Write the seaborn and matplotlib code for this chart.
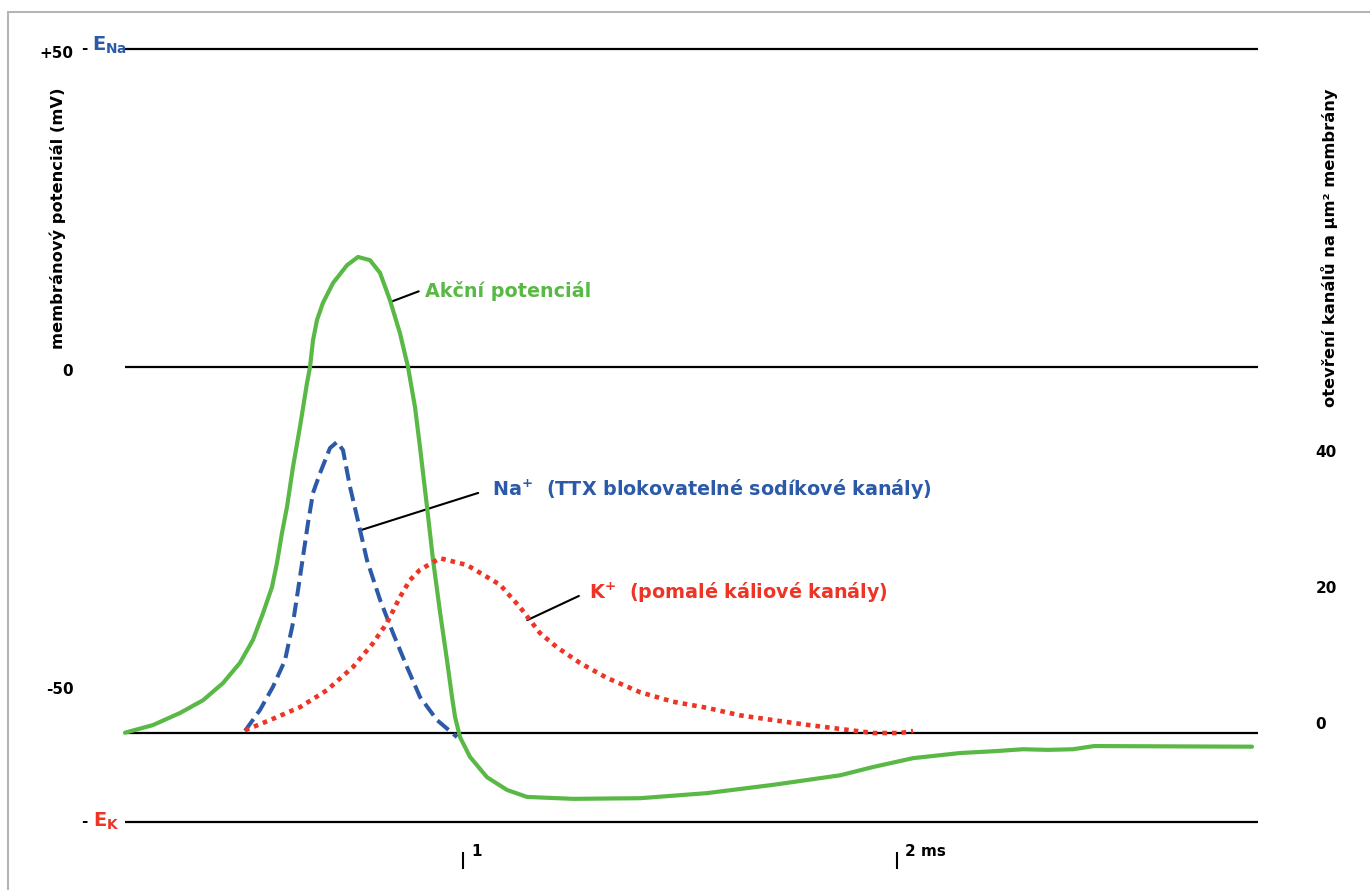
import numpy as np
import pandas as pd
import matplotlib
matplotlib.use("Agg")
import matplotlib.pyplot as plt
from matplotlib.lines import Line2D
from matplotlib.transforms import blended_transform_factory, ScaledTranslation
import seaborn as sns

# ---------------- data ----------------
# action potential: time (ms), membrane potential (mV)
ap_time = [0.2212, 0.2857, 0.3479, 0.4009, 0.4470, 0.4862, 0.5161, 0.5392, 0.5599, 0.5714,
           0.5829, 0.5945, 0.6083, 0.6244, 0.6406, 0.6475, 0.6544, 0.6636, 0.6774, 0.7005,
           0.7327, 0.7581, 0.7857, 0.8088, 0.8318, 0.8548, 0.8733, 0.8894, 0.9009, 0.9171,
           0.9309, 0.9470, 0.9631, 0.9747, 0.9816, 0.9931, 1.0161, 1.0553, 1.1014, 1.1475,
           1.2535, 1.4078, 1.5622, 1.7143, 1.8687, 1.9447, 2.0369, 2.1452, 2.2258, 2.2903,
           2.3479, 2.4055, 2.4539, 2.8180]
ap_mv = [-57.5, -56.3, -54.4, -52.4, -49.7, -46.5, -42.9, -38.7, -34.6, -30.8,
         -26.1, -22.0, -15.7, -9.4, -2.5, 0.0, 4.2, 7.4, 10.1, 13.2,
         16.0, 17.3, 16.8, 14.8, 10.5, 5.3, 0.0, -6.3, -12.6, -22.0,
         -30.3, -38.5, -46.1, -51.9, -55.0, -58.2, -61.3, -64.5, -66.5, -67.6,
         -67.9, -67.8, -67.0, -65.7, -64.2, -62.9, -61.5, -60.7, -60.4, -60.1,
         -60.2, -60.1, -59.6, -59.7]

# open Na+ channels per um^2
na_time = [0.4977, 0.5323, 0.5622, 0.5899, 0.6083, 0.6198, 0.6313, 0.6429, 0.6544, 0.6705,
           0.6935, 0.7097, 0.7235, 0.7396, 0.7558, 0.7788, 0.8088, 0.8387, 0.8710, 0.9009,
           0.9401, 0.9862]
na_open = [0.3, 3.4, 6.8, 10.7, 16.2, 21.0, 25.9, 30.9, 35.3, 38.2,
           41.9, 42.8, 41.6, 36.2, 31.8, 25.4, 19.6, 14.7, 9.7, 5.3,
           1.9, -0.6]

# open K+ channels per um^2
k_time = [0.4977, 0.5553, 0.6244, 0.6866, 0.7465, 0.7926, 0.8249, 0.8548, 0.8779, 0.9009,
          0.9470, 1.0092, 1.0853, 1.1313, 1.1774, 1.2166, 1.2696, 1.3318, 1.4078, 1.4839,
          1.5622, 1.6382, 1.7143, 1.7926, 1.8687, 1.9447, 2.0069, 2.0369]
k_open = [0.4, 1.9, 3.8, 6.3, 9.7, 13.2, 16.2, 20.0, 22.5, 24.0,
          25.7, 24.7, 21.8, 18.5, 14.7, 12.6, 10.3, 8.1, 6.0, 4.6,
          3.7, 2.6, 1.9, 1.2, 0.6, 0.0, 0.0, 0.3]

# reference levels (mV): E_Na, zero, resting potential, E_K
ref_levels = [50, 0, -57.5, -71.5]
ref_span = [0.221, 2.832]

left_ticks = [50, 0, -50]
left_ticklabels = ["+50", "0", "-50"]
right_ticks = [0, 20, 40]
right_ticklabels = ["0", "20", "40"]
time_ticks = [1, 2]
time_ticklabels = ["1", "2 ms"]

GREEN = "#5ab946"
BLUE = "#2c5aa8"
RED = "#ee3425"

# ---------------- figure ----------------
sns.set_theme(style="white")
plt.rcParams["font.family"] = ["DejaVu Sans"]
plt.rcParams["font.weight"] = "bold"
plt.rcParams["text.color"] = "black"
plt.rcParams["xtick.color"] = "black"
plt.rcParams["ytick.color"] = "black"
plt.rcParams["ytick.labelcolor"] = "black"
plt.rcParams["xtick.labelcolor"] = "black"

W, H = 1370, 890
fig = plt.figure(figsize=(W / 100, H / 100), dpi=100)

# axes placed so that 1 ms = 434 px, 1 mV = 6.36 px, 1 channel = 6.8 px
xlim = (0.15, 2.9)
ylim = (-75, 55)
left_px = 29 + 434 * xlim[0]
right_px = 29 + 434 * xlim[1]
top_px = 367 - 6.36 * ylim[1]
bot_px = 367 - 6.36 * ylim[0]
ax = fig.add_axes([left_px / W, 1 - bot_px / H, (right_px - left_px) / W, (bot_px - top_px) / H])
ax.set_xlim(*xlim)
ax.set_ylim(*ylim)
ax2 = ax.twinx()
ax2.set_ylim((733 - bot_px) / 6.8, (733 - top_px) / 6.8)
for a in (ax, ax2):
    for s in a.spines.values():
        s.set_visible(False)
    a.patch.set_visible(False)

# reference lines
ax.hlines(ref_levels, ref_span[0], ref_span[1], colors="black", lw=1.6, zorder=1)

# curves
df_ap = pd.DataFrame({"t": ap_time, "v": ap_mv})
df_na = pd.DataFrame({"t": na_time, "c": na_open})
df_k = pd.DataFrame({"t": k_time, "c": k_open})

sns.lineplot(data=df_ap, x="t", y="v", ax=ax, color=GREEN, lw=3.0,
             estimator=None, sort=False, zorder=4)
ax.lines[-1].set_solid_joinstyle("round")
sns.lineplot(data=df_na, x="t", y="c", ax=ax2, color=BLUE, lw=2.9,
             estimator=None, sort=False, zorder=3)
ax2.lines[-1].set_dashes((3.6, 1.6))
sns.lineplot(data=df_k, x="t", y="c", ax=ax2, color=RED, lw=3.3,
             estimator=None, sort=False, zorder=3)
ax2.lines[-1].set_dashes((1.0, 1.1))
ax2.lines[-1].set_dash_capstyle("butt")

ax.set_xlabel("")
ax.set_ylabel("")
ax2.set_ylabel("")

# left ticks
ax.set_yticks(left_ticks)
ax.set_yticklabels(left_ticklabels, fontsize=11, fontweight="bold", color="black")
ax.tick_params(axis="y", length=0, pad=15)
for lbl in ax.get_yticklabels():
    lbl.set_transform(lbl.get_transform() + ScaledTranslation(0, -0.03, fig.dpi_scale_trans))

# right ticks
ax2.set_yticks(right_ticks)
ax2.set_yticklabels(right_ticklabels, fontsize=11, fontweight="bold", color="black")
ax2.tick_params(axis="y", length=0, pad=20)
for lbl in ax2.get_yticklabels():
    lbl.set_transform(lbl.get_transform() + ScaledTranslation(0, 0.10, fig.dpi_scale_trans))

# bottom ticks
ax.set_xticks(time_ticks)
ax.set_xticklabels([])
ax.spines["bottom"].set_position(("outward", 6))
ax.tick_params(axis="x", direction="out", length=12.5, width=1.5, color="black", bottom=True)
tx = blended_transform_factory(ax.transData, fig.transFigure) + \
    ScaledTranslation(0.08, 0, fig.dpi_scale_trans)
for tv, tl in zip(time_ticks, time_ticklabels):
    ax.text(tv, 1 - 851 / H, tl, transform=tx, ha="left", va="center",
            fontsize=11, fontweight="bold", color="black")

# E_Na / E_K labels
fy = blended_transform_factory(fig.transFigure, ax.transData)
ax.text(81 / W, 50.0, "-", transform=fy, ha="left", va="center", fontsize=11,
        fontweight="bold", color="black")
ax.text(92 / W, 50.6, r"$\mathbf{E_{Na}}$", transform=fy, ha="left", va="center",
        fontsize=14, color=BLUE)
ax.text(81 / W, -71.5, "-", transform=fy, ha="left", va="center", fontsize=11,
        fontweight="bold", color="black")
ax.text(93 / W, -71.5, r"$\mathbf{E_{K}}$", transform=fy, ha="left", va="center",
        fontsize=14, color=RED)

# axis titles
fig.text(58 / W, 1 - 218 / H, "membránový potenciál (mV)", rotation=90, ha="center",
         va="center", fontsize=11.7, fontweight="bold", color="black")
fig.text(1329 / W, 1 - 248 / H, "otevření kanálů na μm² membrány", rotation=90, ha="center",
         va="center", fontsize=11.7, fontweight="bold", color="black")

# annotations with leader lines
def leader(x0, y0, x1, y1):
    ax.annotate("", xy=(x0, y0), xytext=(x1, y1),
                arrowprops=dict(arrowstyle="-", lw=1.5, color="black", shrinkA=0, shrinkB=0))

leader(0.832, 10.2, 0.898, 11.9)
ax.text(0.912, 12.0, "Akční potenciál", color=GREEN, fontsize=13.8, fontweight="bold",
        ha="left", va="center")
leader(0.767, -25.6, 1.035, -19.8)
ax.text(1.067, -19.4, r"Na$^{\mathbf{+}}$  (TTX blokovatelné sodíkové kanály)", color=BLUE,
        fontsize=13.8, fontweight="bold", ha="left", va="center")
leader(1.148, -39.8, 1.267, -36.0)
ax.text(1.290, -35.6, r"K$^{\mathbf{+}}$  (pomalé káliové kanály)", color=RED, fontsize=13.8,
        fontweight="bold", ha="left", va="center")

# grey frame
fig.add_artist(Line2D([8 / W, 1], [1 - 12 / H, 1 - 12 / H], transform=fig.transFigure,
                      color="#b5b5b5", lw=1.5))
fig.add_artist(Line2D([8 / W, 8 / W], [1 - 12 / H, 0], transform=fig.transFigure,
                      color="#b5b5b5", lw=1.5))

fig.savefig("out.png", dpi=100, facecolor="white")
